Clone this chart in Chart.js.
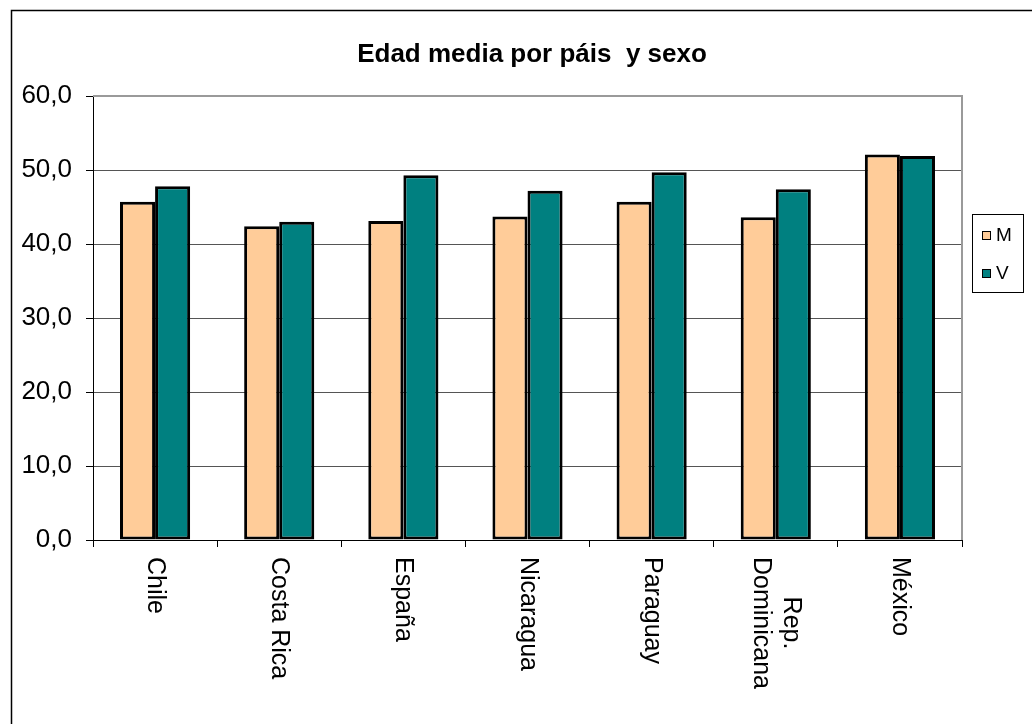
<!DOCTYPE html>
<html>
<head>
<meta charset="utf-8">
<script src="https://cdn.jsdelivr.net/npm/chart.js@4.4.1/dist/chart.umd.min.js"></script>
<style>
html,body{margin:0;padding:0;background:#fff;}
#wrap{width:1032px;height:724px;position:relative;}
canvas{display:block;}
</style>
</head>
<body>
<div id="wrap"><canvas id="c" width="1032" height="724"></canvas></div>
<script>
const titleText = 'Edad media por páis  y sexo';
const categories = [['Chile'], ['Costa Rica'], ['España'], ['Nicaragua'], ['Paraguay'], ['Rep.', 'Dominicana'], ['México']];
const seriesNames = ['M', 'V'];
const seriesM = [45.7, 42.4, 43.1, 43.7, 45.7, 43.6, 52.1];
const seriesV = [47.8, 43.0, 49.3, 47.2, 49.7, 47.4, 51.9];
const yMin = 0;
const yMax = 60;
const yStep = 10;

const FONT = '"Liberation Sans", Arial, sans-serif';
const colors = ['#FFCC99', '#008080'];

const framePlugin = {
  id: 'frame',
  beforeDraw(chart) {
    const ctx = chart.ctx;
    ctx.save();
    ctx.fillStyle = '#fff';
    ctx.fillRect(0, 0, chart.width, chart.height);
    ctx.strokeStyle = '#000';
    ctx.lineWidth = 1.5;
    ctx.beginPath();
    ctx.moveTo(11.5, chart.height + 2);
    ctx.lineTo(11.5, 10.5);
    ctx.lineTo(chart.width + 2, 10.5);
    ctx.stroke();
    ctx.restore();
  },
  afterDraw(chart) {
    const ctx = chart.ctx;
    const a = chart.chartArea;
    ctx.save();
    ctx.strokeStyle = '#9a9a9a';
    ctx.lineWidth = 2;
    ctx.beginPath();
    ctx.moveTo(a.left, a.top);
    ctx.lineTo(a.right, a.top);
    ctx.lineTo(a.right, a.bottom);
    ctx.stroke();
    ctx.fillStyle = '#000';
    ctx.font = 'bold 26px ' + FONT;
    ctx.textAlign = 'center';
    ctx.textBaseline = 'alphabetic';
    ctx.fillText(titleText, 532, 62);
    const xs = chart.scales.x;
    ctx.font = '25px ' + FONT;
    categories.forEach((lines, i) => {
      const x = xs.getPixelForValue(i);
      let maxW = 0;
      lines.forEach(l => { maxW = Math.max(maxW, ctx.measureText(l).width); });
      ctx.save();
      ctx.translate(x, a.bottom + 17);
      ctx.rotate(Math.PI / 2);
      ctx.textAlign = 'center';
      ctx.textBaseline = 'middle';
      const lh = 30;
      lines.forEach((l, j) => {
        const off = (j - (lines.length - 1) / 2) * lh;
        ctx.fillText(l, maxW / 2, off);
      });
      ctx.restore();
    });
    ctx.strokeStyle = '#000';
    ctx.lineWidth = 1;
    ctx.strokeRect(972.5, 214.5, 51, 78);
    ctx.font = '19px ' + FONT;
    ctx.textAlign = 'left';
    ctx.textBaseline = 'middle';
    seriesNames.forEach((n, k) => {
      const y = 231 + k * 38;
      ctx.fillStyle = colors[k];
      ctx.fillRect(982, y, 9, 9);
      ctx.strokeRect(982.5, y + 0.5, 8, 8);
      ctx.fillStyle = '#000';
      ctx.fillText(n, 996, y + 5);
    });
    ctx.restore();
  }
};

new Chart(document.getElementById('c'), {
  type: 'bar',
  data: {
    labels: categories,
    datasets: [
      { label: seriesNames[0], data: seriesM, backgroundColor: colors[0], borderColor: '#000', borderWidth: 3, borderSkipped: false, categoryPercentage: 0.565, barPercentage: 1.0 },
      { label: seriesNames[1], data: seriesV, backgroundColor: colors[1], borderColor: '#000', borderWidth: 3, borderSkipped: false, categoryPercentage: 0.565, barPercentage: 1.0 }
    ]
  },
  options: {
    responsive: false,
    animation: false,
    devicePixelRatio: 1,
    layout: { padding: { top: 96, right: 70, bottom: 0, left: 0 } },
    plugins: { legend: { display: false }, title: { display: false }, tooltip: { enabled: false } },
    scales: {
      x: {
        afterFit(s) { s.height = 184; },
        ticks: { display: false },
        grid: { offset: true, drawOnChartArea: false, drawTicks: true, tickLength: 7, tickColor: '#000' },
        border: { color: '#000', width: 1 }
      },
      y: {
        min: yMin, max: yMax,
        afterFit(s) { s.width = 93; },
        ticks: {
          stepSize: yStep,
          color: '#000',
          padding: 14,
          font: { family: FONT, size: 26 },
          callback: v => v.toFixed(1).replace('.', ',')
        },
        grid: { color: '#555', lineWidth: 1, drawTicks: true, tickLength: 7, tickColor: '#000' },
        border: { color: '#000', width: 1 }
      }
    }
  },
  plugins: [framePlugin]
});
</script>
</body>
</html>
